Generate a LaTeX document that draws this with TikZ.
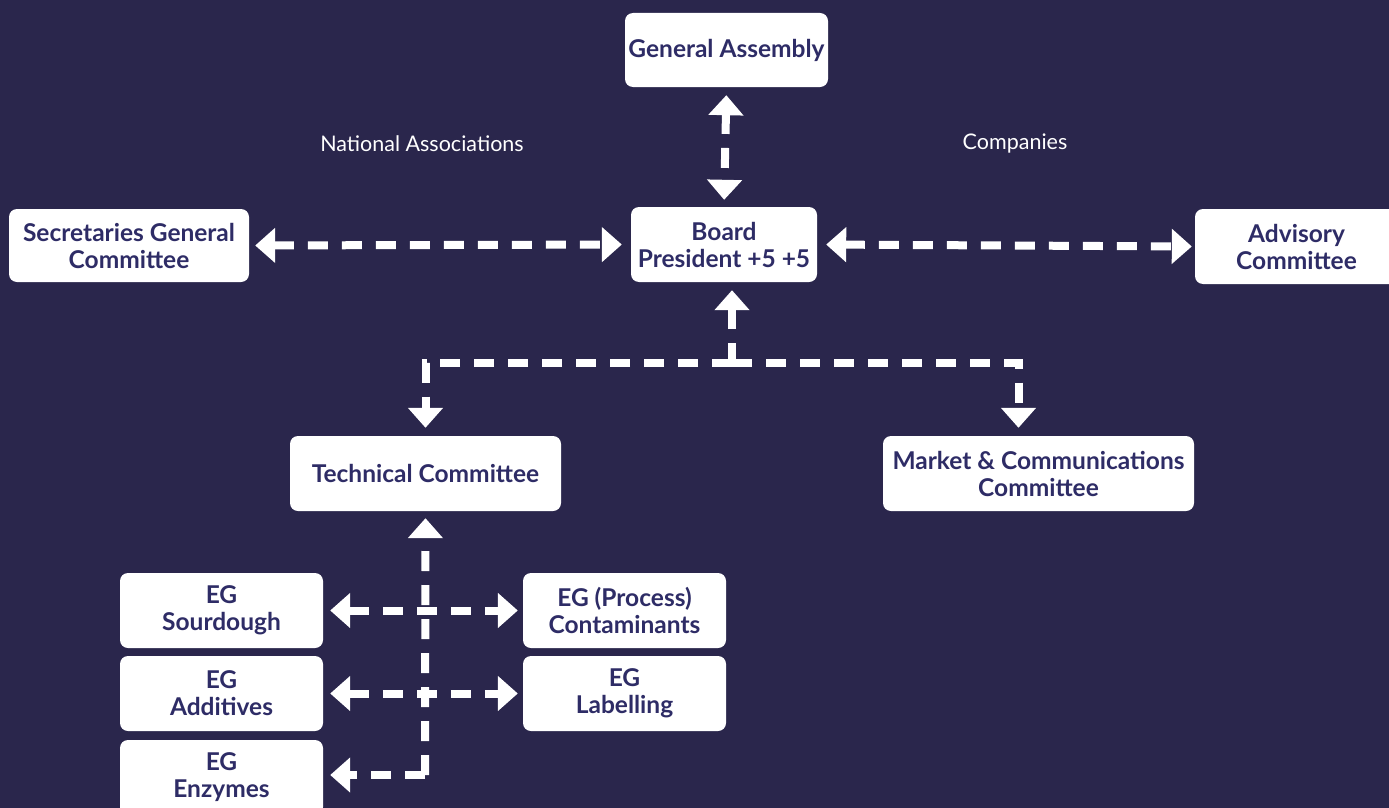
\documentclass[tikz,border=0pt]{standalone}
\usepackage{fontspec}
\setmainfont{Lato}
\usetikzlibrary{arrows.meta}
\definecolor{bgnavy}{RGB}{42,38,76}
\definecolor{inknavy}{RGB}{46,44,102}
\tikzset{
  box/.style={fill=white, rounded corners=8pt, inner sep=0pt, align=center,
    text=inknavy, font=\bfseries\fontsize{24.5}{27}\selectfont},
  lbl/.style={text=white, font=\fontsize{21.5}{24}\selectfont},
  flow/.style={draw=white, line width=8pt, dash pattern=on 20pt off 14pt},
  tip/.tip={Triangle[width=34pt,length=20pt]},
}
\begin{document}
\begin{tikzpicture}[x=1pt,y=-1pt]
\useasboundingbox (0,0) rectangle (1389,808);
\clip (0,0) rectangle (1389,808);
\fill[bgnavy] (0,0) rectangle (1389,808);

% governing bodies
\node[box, minimum width=203pt, minimum height=74pt] (ga) at (726.5,50) {General Assembly};
\node[box, minimum width=186pt, minimum height=75pt] (board) at (724,244.5) {Board\\President +5 +5};
\node[box, minimum width=240pt, minimum height=73pt] (sec) at (129,245.5) {Secretaries General\\Committee};
\node[box, minimum width=203pt, minimum height=75pt] (adv) at (1296.5,246.5) {Advisory\\Committee};

\node[lbl] (nat) at (422,144) {National Associations};
\node[lbl] (comp) at (1015,144) {Companies};

% committees
\node[box, minimum width=271pt, minimum height=75pt] (tc) at (425.5,473.5) {Technical Committee};
\node[box, minimum width=311pt, minimum height=75pt] (mc) at (1038.5,473.5) {Market \& Communications\\Committee};

% expert groups
\node[box, minimum width=203pt, minimum height=75pt] (sour) at (221.5,610.5) {EG\\Sourdough};
\node[box, minimum width=203pt, minimum height=75pt] (addi) at (221.5,693.5) {EG\\Additives};
\node[box, minimum width=203pt, minimum height=75pt] (enz) at (221.5,777.5) {EG\\Enzymes};
\node[box, minimum width=203pt, minimum height=75pt] (cont) at (624.5,610.5) {EG (Process)\\Contaminants};
\node[box, minimum width=203pt, minimum height=75pt] (lab) at (624.5,693.5) {EG\\Labelling};

% links around the board
\draw[flow, tip-tip, shorten <=8pt, shorten >=7pt] (ga.south) -- (board.north);
\draw[flow, tip-tip, shorten <=6pt, shorten >=9pt] (sec.east) -- (board.west);
\draw[flow, tip-tip, shorten <=9pt, shorten >=3pt] (board.east) -- (adv.west);

% board to committees
\coordinate (jb) at (732,363);
\draw[flow, -tip, shorten >=8pt] (jb) -- ([xshift=8pt]board.south);
\draw[flow, -tip, shorten >=8pt] (jb) -| (tc.north);
\draw[flow, -tip, shorten >=8pt] (jb) -| ([xshift=-20pt]mc.north);

% technical committee to expert groups
\coordinate (jt) at (425,775);
\draw[flow, -tip, shorten >=7pt] (jt) -- (tc.south);
\draw[flow, -tip, shorten >=7pt] (jt) -- (jt -| enz.east);
\draw[flow, tip-tip, shorten <=7pt, shorten >=5pt] (sour.east) -- (cont.west);
\draw[flow, tip-tip, shorten <=7pt, shorten >=5pt] (addi.east) -- (lab.west);
\end{tikzpicture}
\end{document}
